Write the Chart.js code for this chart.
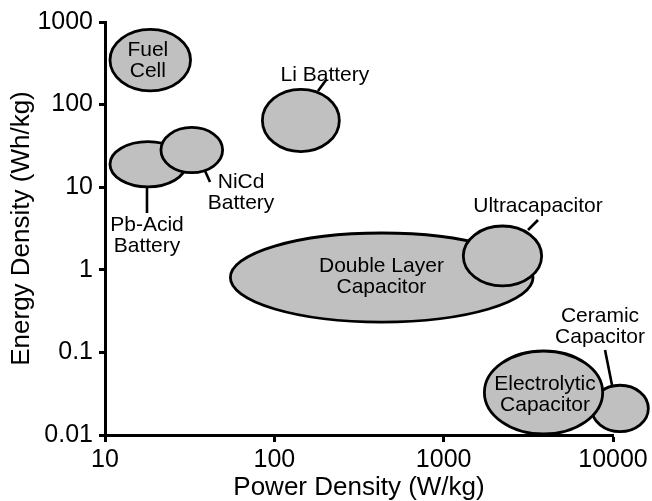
<!DOCTYPE html>
<html><head><meta charset="utf-8">
<script src="https://cdn.jsdelivr.net/npm/chart.js@4/dist/chart.umd.min.js"></script>
<style>html,body{margin:0;padding:0;background:#fff}#wrap{width:652px;height:501px;position:relative}</style>
</head><body><div id="wrap"><canvas id="c"></canvas></div>
<script>
// Ragone plot: ranges of power density (W/kg) and energy density (Wh/kg)
const technologies = ['Fuel Cell','Pb-Acid Battery','NiCd Battery','Li Battery','Double Layer Capacitor','Ultracapacitor','Ceramic Capacitor','Electrolytic Capacitor'];
const powerMin  = [10.7, 10.7, 21.4, 85, 55, 1306, 7490, 1740];
const powerMax  = [32, 30, 49.5, 242, 3370, 3790, 16170, 8690];
const energyMin = [147, 10.1, 15, 27, 0.233, 0.64, 0.011, 0.0103];
const energyMax = [816, 35.6, 53, 153, 2.79, 3.39, 0.040, 0.104];
const labelLines = [['Fuel','Cell'],['Pb-Acid','Battery'],['NiCd','Battery'],['Li Battery'],['Double Layer','Capacitor'],['Ultracapacitor'],['Ceramic','Capacitor'],['Electrolytic','Capacitor']];
const labelPower  = [17.9, 17.7, 63.6, 199, 429, 3606, 8381, 3967];
const labelEnergy = [337, 2.57, 8.51, 225, 0.83, 5.81, 0.203, 0.0305];
const leaderPower  = [null, [17.7,17.7], [39,41.7], [181,202], null, [3148,3606], [9865,8972], null];
const leaderEnergy = [null, [10.06,4.87], [15.7,11.56], [146,199], null, [3.03,4.01], [0.0403,0.107], null];
const xTicks = [10,100,1000,10000];
const yTicks = [0.01,0.1,1,10,100,1000];

const F = "'Liberation Sans', Arial, sans-serif";

const ragone = {
  id: 'ragone',
  afterDatasetsDraw(chart) {
    const {ctx, scales: {x, y}} = chart;
    ctx.save();
    technologies.forEach((name, i) => {
      const x0 = x.getPixelForValue(powerMin[i]), x1 = x.getPixelForValue(powerMax[i]);
      const y0 = y.getPixelForValue(energyMax[i]), y1 = y.getPixelForValue(energyMin[i]);
      ctx.beginPath();
      ctx.ellipse((x0 + x1) / 2, (y0 + y1) / 2, (x1 - x0) / 2, (y1 - y0) / 2, 0, 0, Math.PI * 2);
      ctx.fillStyle = '#c0c0c0';
      ctx.fill();
      ctx.lineWidth = 2.8;
      ctx.strokeStyle = '#000';
      ctx.stroke();
    });
    ctx.lineWidth = 2.6;
    ctx.lineCap = 'butt';
    technologies.forEach((name, i) => {
      if (!leaderPower[i]) return;
      ctx.beginPath();
      ctx.moveTo(x.getPixelForValue(leaderPower[i][0]), y.getPixelForValue(leaderEnergy[i][0]));
      ctx.lineTo(x.getPixelForValue(leaderPower[i][1]), y.getPixelForValue(leaderEnergy[i][1]));
      ctx.stroke();
    });
    ctx.fillStyle = '#000';
    ctx.font = '21px ' + F;
    ctx.textAlign = 'center';
    ctx.textBaseline = 'middle';
    const lh = 21;
    technologies.forEach((name, i) => {
      const cx = x.getPixelForValue(labelPower[i]);
      const cy = y.getPixelForValue(labelEnergy[i]);
      const lines = labelLines[i];
      lines.forEach((t, k) => {
        ctx.fillText(t, cx, cy + (k - (lines.length - 1) / 2) * lh);
      });
    });
    ctx.restore();
  }
};

new Chart(document.getElementById('c'), {
  type: 'scatter',
  data: {
    datasets: [{
      label: 'Ragone',
      data: technologies.map((t, i) => ({x: powerMin[i], y: energyMin[i]})),
      pointRadius: 0,
      showLine: false
    }]
  },
  options: {
    responsive: true,
    maintainAspectRatio: false,
    animation: false,
    events: [],
    layout: {padding: {top: 22, right: 39, bottom: 0, left: 0}},
    plugins: {legend: {display: false}, tooltip: {enabled: false}},
    scales: {
      x: {
        type: 'logarithmic', min: 10, max: 10000,
        afterBuildTicks: s => { s.ticks = xTicks.map(v => ({value: v})); },
        afterFit: s => { s.height = 66; },
        ticks: {callback: v => String(v), font: {size: 25, family: F}, color: '#000', padding: 3, maxRotation: 0, autoSkip: false},
        grid: {display: true, drawOnChartArea: false, drawTicks: true, tickLength: 7, tickWidth: 3, tickColor: '#000'},
        border: {display: true, width: 3, color: '#000'},
        title: {display: true, text: 'Power Density (W/kg)', font: {size: 26, family: F, lineHeight: 1}, color: '#000', padding: {top: 0, bottom: 0}}
      },
      y: {
        type: 'logarithmic', min: 0.01, max: 1000,
        afterBuildTicks: s => { s.ticks = yTicks.map(v => ({value: v})); },
        afterFit: s => { s.width = 105; },
        ticks: {callback: v => String(v), font: {size: 25, family: F}, color: '#000', padding: 6, autoSkip: false},
        grid: {display: true, drawOnChartArea: false, drawTicks: true, tickLength: 6, tickWidth: 3, tickColor: '#000'},
        border: {display: true, width: 3, color: '#000'},
        title: {display: true, text: 'Energy Density (Wh/kg)', font: {size: 26, family: F, lineHeight: 1}, color: '#000', padding: {top: 9, bottom: 0}}
      }
    }
  },
  plugins: [ragone]
});
</script>
</body></html>
